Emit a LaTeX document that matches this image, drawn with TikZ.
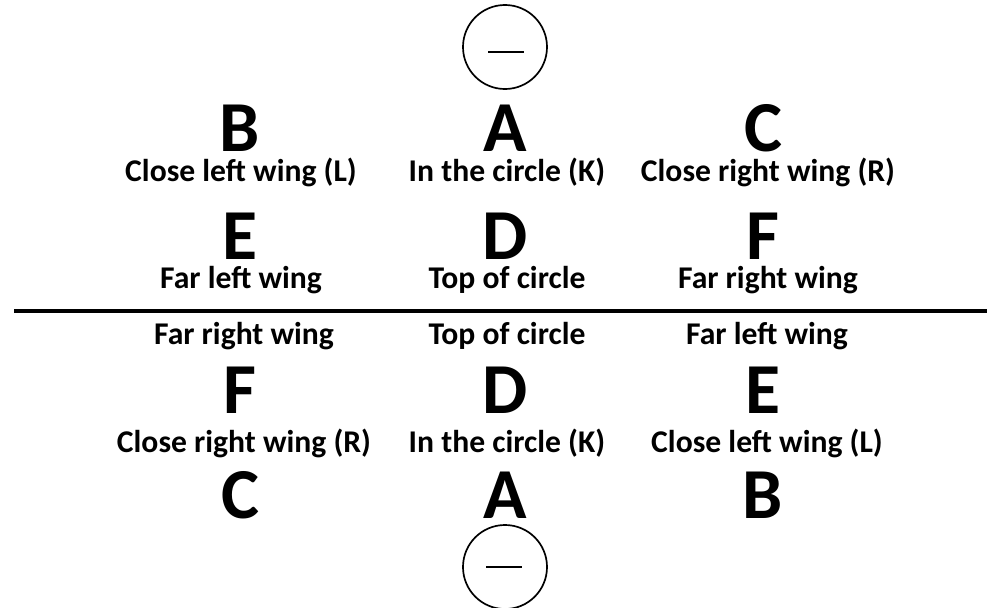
\documentclass[tikz,border=0pt]{standalone}
\usepackage{fontspec}
\setmainfont{Carlito}
\usetikzlibrary{positioning, calc}

\begin{document}
\begin{tikzpicture}[x=0.025cm, y=-0.025cm, thick]
    \tikzstyle{letter} = [font=\bfseries\fontsize{51}{51}\selectfont, inner sep=0pt]
    \tikzstyle{label} = [font=\bfseries\fontsize{22.5}{23}\selectfont, inner sep=0pt]
    \tikzstyle{ring} = [circle, draw, line width=1.2pt, minimum size=2.1cm, inner sep=0pt]

    \useasboundingbox (0,0) rectangle (987,607);

    % Top half
    \node [ring] (topring) at (505,47) {};
    \draw [line width=1.2pt] ($(topring.center)+(-17,5)$) -- ($(topring.center)+(19,5)$);
    \node [letter] (b1) at (240,128) {B};
    \node [letter] (a1) at (505,128) {A};
    \node [letter] (c1) at (763,128) {C};
    \node [label] (l1) at (241,172) {Close left wing (L)};
    \node [label] (k1) at (507,172) {In the circle (K)};
    \node [label] (r1) at (768,172) {Close right wing (R)};
    \node [letter] (e1) at (240,236) {E};
    \node [letter] (d1) at (505,236) {D};
    \node [letter] (f1) at (763,236) {F};
    \node [label] (fl1) at (241,280) {Far left wing};
    \node [label] (tc1) at (507,280) {Top of circle};
    \node [label] (fr1) at (768,280) {Far right wing};

    % Divider
    \coordinate (divl) at (14,311);
    \coordinate (divr) at (987,311);
    \draw [line width=3pt] (divl) -- (divr);

    % Bottom half
    \node [label] (fr2) at (244,336) {Far right wing};
    \node [label] (tc2) at (507,336) {Top of circle};
    \node [label] (fl2) at (767,336) {Far left wing};
    \node [letter] (f2) at (240,390) {F};
    \node [letter] (d2) at (505,390) {D};
    \node [letter] (e2) at (763,390) {E};
    \node [label] (r2) at (244,443) {Close right wing (R)};
    \node [label] (k2) at (507,443) {In the circle (K)};
    \node [label] (l2) at (767,443) {Close left wing (L)};
    \node [letter] (c2) at (240,495) {C};
    \node [letter] (a2) at (505,495) {A};
    \node [letter] (b2) at (763,495) {B};
    \node [ring] (botring) at (505,567) {};
    \draw [line width=1.2pt] ($(botring.center)+(-19,0)$) -- ($(botring.center)+(17,0)$);
\end{tikzpicture}
\end{document}
